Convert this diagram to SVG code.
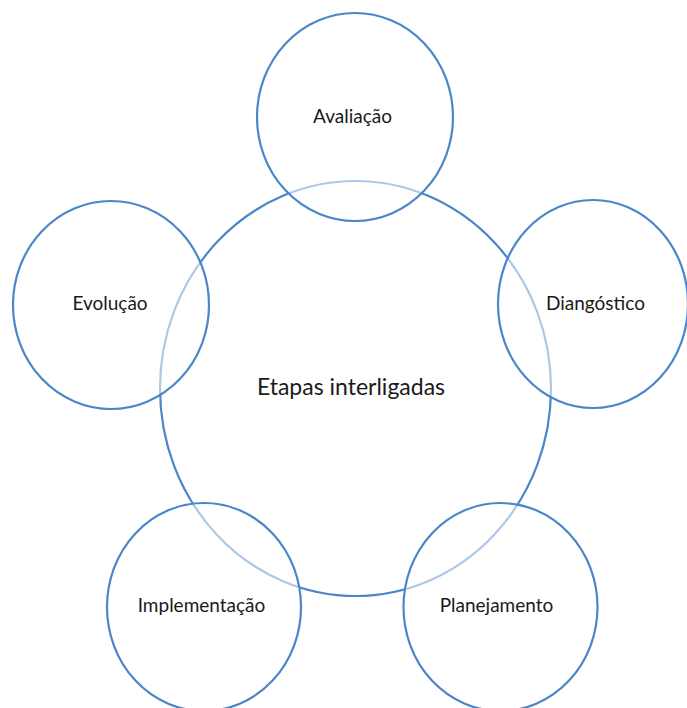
<svg xmlns="http://www.w3.org/2000/svg" width="687" height="708" viewBox="0 0 687 708">
<style>
.ring{fill:#ffffff;fill-opacity:0.55;stroke:#4a86c8;stroke-width:2.2}
.core{fill:#ffffff;stroke:#4a86c8;stroke-width:2.2}
.lbl{font-family:Lato,"Open Sans",sans-serif;font-size:19px;fill:#1a1a1a;text-anchor:middle}
.big{font-family:Lato,"Open Sans",sans-serif;font-size:23px;fill:#1a1a1a;text-anchor:middle}
</style>
<rect width="687" height="708" fill="#ffffff"/>
<g id="center">
<ellipse class="core" cx="355.5" cy="388.5" rx="195.5" ry="207.5"/>
<text class="big" x="351" y="395">Etapas interligadas</text>
</g>
<g id="avaliacao">
<ellipse class="ring" cx="355" cy="117" rx="98" ry="104"/>
<text class="lbl" x="352.5" y="123">Avaliação</text>
</g>
<g id="evolucao">
<ellipse class="ring" cx="111" cy="305" rx="98" ry="104"/>
<text class="lbl" x="110" y="310">Evolução</text>
</g>
<g id="diagnostico">
<ellipse class="ring" cx="593" cy="304" rx="95" ry="104"/>
<text class="lbl" x="595.5" y="310">Diangóstico</text>
</g>
<g id="implementacao">
<ellipse class="ring" cx="204" cy="607" rx="97" ry="104"/>
<text class="lbl" x="201.5" y="612">Implementação</text>
</g>
<g id="planejamento">
<ellipse class="ring" cx="500.5" cy="607" rx="97" ry="104"/>
<text class="lbl" x="496.5" y="612">Planejamento</text>
</g>
<g id="connectors"/>
</svg>
